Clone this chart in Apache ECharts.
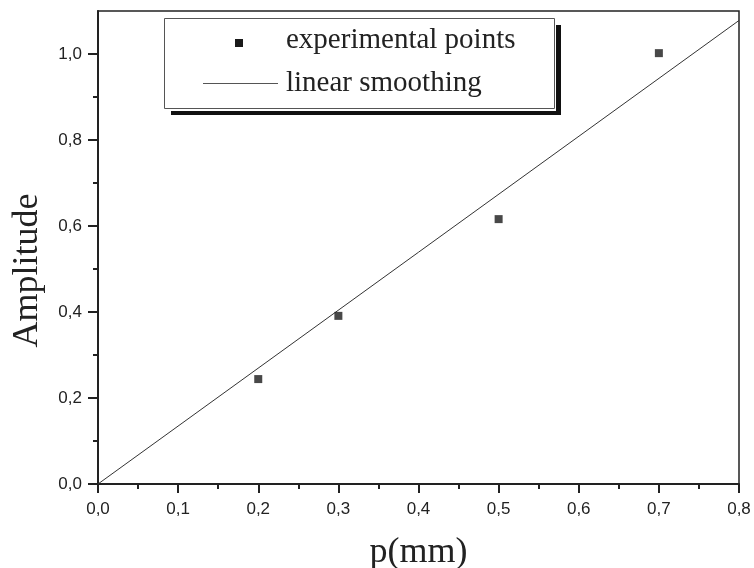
<!DOCTYPE html>
<html>
<head>
<meta charset="utf-8">
<script src="https://cdn.jsdelivr.net/npm/echarts@6/dist/echarts.min.js"></script>
<style>
  html, body { margin: 0; padding: 0; background: #fff; }
  #chart { width: 754px; height: 568px; }
</style>
</head>
<body>
<div id="chart"></div>
<script>
// measured points
var pointX = [0.2, 0.3, 0.5, 0.7];
var pointY = [0.244, 0.391, 0.616, 1.002];
// fitted line end points
var lineX = [0, 0.8];
var lineY = [0, 1.078];
// y ticks
var yMajorTicks = [0, 0.2, 0.4, 0.6, 0.8, 1.0];
var yMinorTicks = [0.1, 0.3, 0.5, 0.7, 0.9];
var legendNames = ['experimental points', 'linear smoothing'];

var ink = '#222';
var serif = '"Liberation Serif", "Times New Roman", serif';
var sans = '"Liberation Sans", Arial, sans-serif';

function comma(v) {
  return v.toFixed(1).replace('.', ',');
}

var myChart = echarts.init(document.getElementById('chart'));

var option = {
  animation: false,
  grid: {
    left: 98, right: 15, top: 11, bottom: 84,
    outerBoundsMode: 'none',
    containLabel: false,
    show: true, borderColor: ink, borderWidth: 1.5
  },
  xAxis: {
    type: 'value',
    min: 0, max: 0.8, interval: 0.1,
    name: 'p(mm)',
    nameLocation: 'middle',
    nameGap: 51,
    nameTextStyle: { fontFamily: serif, fontSize: 36, color: ink },
    axisLine: { lineStyle: { color: ink, width: 2 } },
    axisTick: { length: 9, lineStyle: { color: ink, width: 2 } },
    minorTick: { show: true, splitNumber: 2, length: 5, lineStyle: { color: ink, width: 2 } },
    splitLine: { show: false },
    axisLabel: {
      margin: 17, fontFamily: sans, fontSize: 17, color: ink,
      formatter: comma
    }
  },
  yAxis: [{
    type: 'value',
    position: 'left',
    min: 0, max: 1.1,
    name: 'Amplitude',
    nameLocation: 'middle',
    nameGap: 52,
    nameTextStyle: { fontFamily: serif, fontSize: 36, color: ink, padding: [0, 46, 0, 0] },
    axisLine: { show: true, lineStyle: { color: ink, width: 2 } },
    axisTick: { show: true, length: 10, customValues: yMajorTicks, lineStyle: { color: ink, width: 2 } },
    splitLine: { show: false },
    axisLabel: {
      margin: 16, fontFamily: sans, fontSize: 17, color: ink,
      customValues: yMajorTicks,
      formatter: comma
    }
  }, {
    type: 'value',
    position: 'left',
    min: 0, max: 1.1,
    axisLine: { show: false },
    axisTick: { show: true, length: 5, customValues: yMinorTicks, lineStyle: { color: ink, width: 2 } },
    splitLine: { show: false },
    axisLabel: { show: false }
  }],
  series: [{
    name: legendNames[1],
    type: 'line',
    data: lineX.map(function (x, i) { return [x, lineY[i]]; }),
    showSymbol: false,
    lineStyle: { color: '#333', width: 1 },
    z: 2
  }, {
    name: legendNames[0],
    type: 'scatter',
    data: pointX.map(function (x, i) { return [x, pointY[i]]; }),
    symbol: 'rect',
    symbolSize: 8,
    itemStyle: { color: '#1a1a1a' },
    z: 3
  }],
  graphic: [
    // legend shadow, box and entries
    { type: 'rect', shape: { x: 171, y: 25, width: 390, height: 90 }, style: { fill: '#111' }, z: 10 },
    { type: 'rect', shape: { x: 164, y: 18, width: 392, height: 93 }, style: { fill: '#fff' }, z: 11 },
    { type: 'rect', shape: { x: 164.5, y: 18.5, width: 390, height: 90 }, style: { fill: '#fff', stroke: '#555', lineWidth: 1 }, z: 12 },
    { type: 'rect', shape: { x: 235, y: 39, width: 8, height: 8 }, style: { fill: '#1a1a1a' }, z: 13 },
    { type: 'line', shape: { x1: 203, y1: 83.5, x2: 278, y2: 83.5 }, style: { stroke: '#555', lineWidth: 1 }, z: 13 },
    { type: 'text', x: 286, y: 40, style: { text: legendNames[0], font: '29px ' + serif, fill: ink, verticalAlign: 'middle' }, z: 13 },
    { type: 'text', x: 286, y: 83, style: { text: legendNames[1], font: '29px ' + serif, fill: ink, verticalAlign: 'middle' }, z: 13 }
  ]
};

myChart.setOption(option);
</script>
</body>
</html>
